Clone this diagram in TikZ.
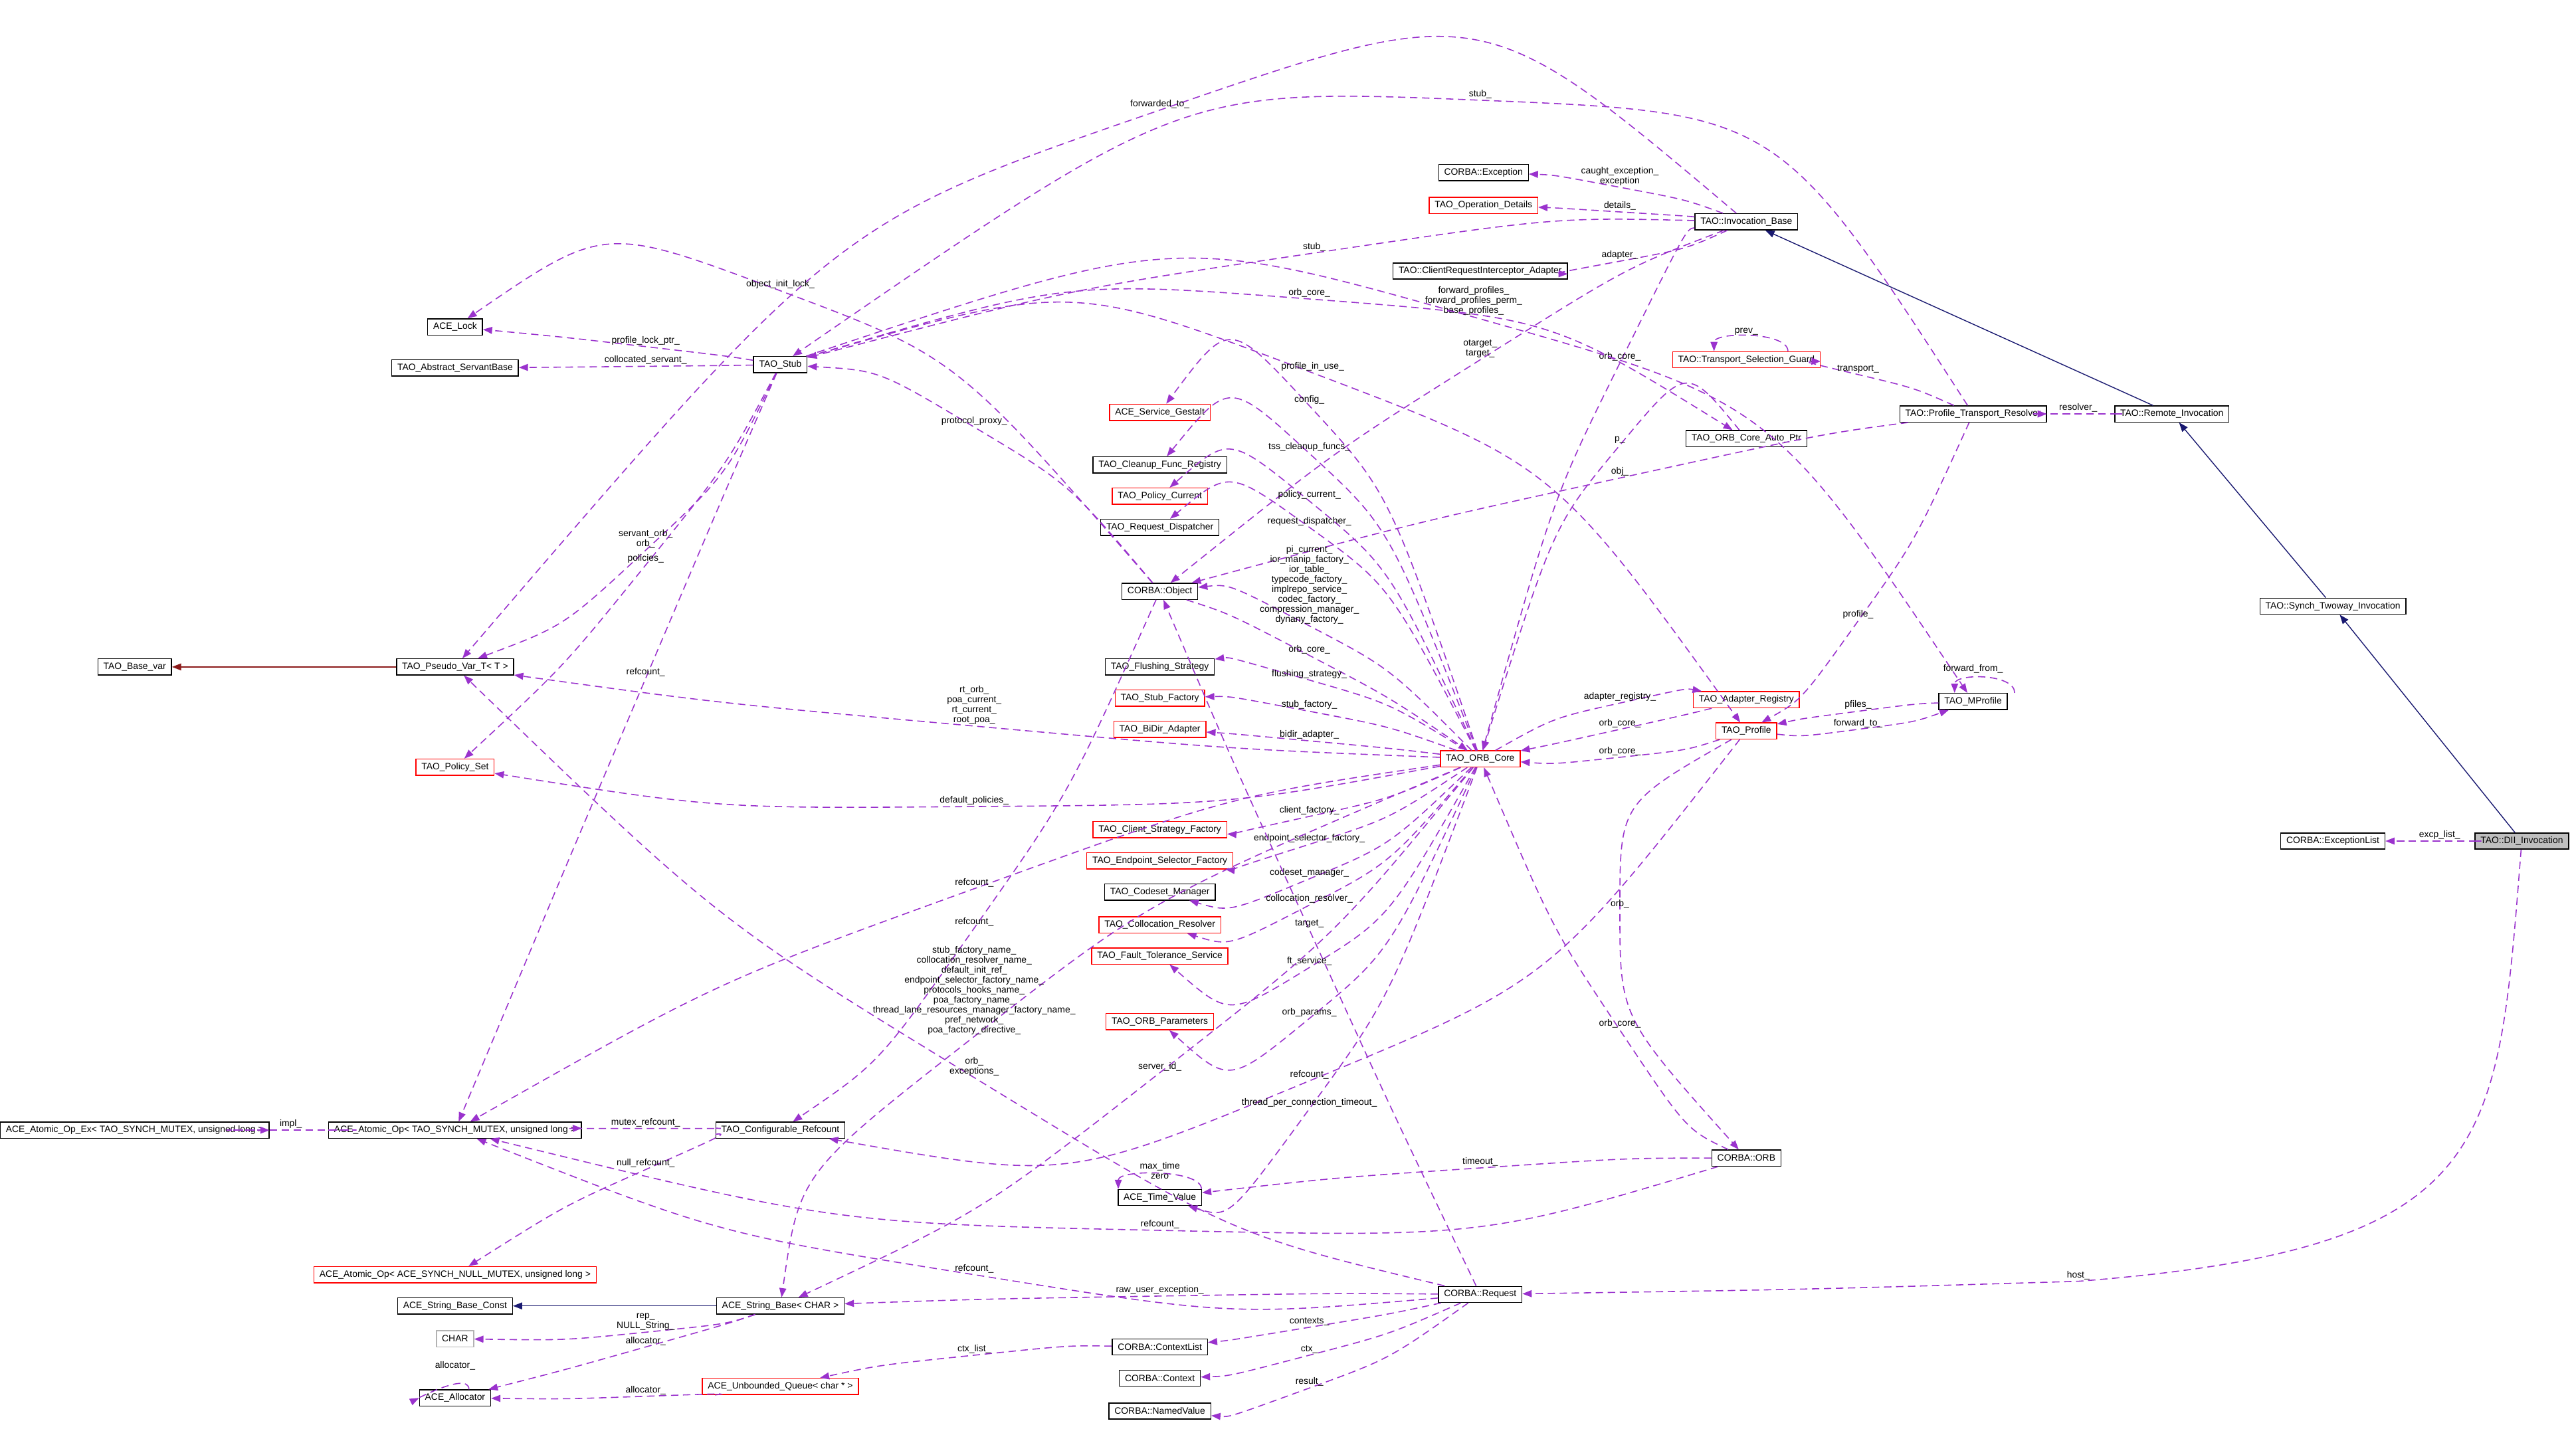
\documentclass[tikz,border=0pt]{standalone}
\usepackage{fontspec}
\setmainfont{Liberation Sans}
\usepackage{underscore}
\usetikzlibrary{calc,arrows.meta}
\definecolor{mp}{HTML}{9A32CD}
\definecolor{nb}{HTML}{191970}
\definecolor{fb}{HTML}{8B1A1A}
\tikzset{
  cls/.style={draw=black,line width=0.4pt,font=\fontsize{4.0}{4.4}\selectfont,inner xsep=2.4pt,inner ysep=0pt,minimum height=7pt,anchor=center},
  rcls/.style={cls,draw=red},
  gcls/.style={cls,draw=gray!60},
  lab/.style={font=\fontsize{4.0}{4.3}\selectfont,align=center,anchor=south,inner sep=0.6pt},
  mem/.style={draw=mp,line width=0.45pt,dash pattern=on 3.2pt off 2pt,-{Triangle[length=4pt,width=3pt]}},
  inh/.style={draw=nb,line width=0.4pt,-{Triangle[length=4pt,width=3pt]}},
  tpl/.style={draw=fb,line width=0.4pt,-{Triangle[length=4pt,width=3pt]}}
}
\newcommand\mlink[6][]{\draw[mem,#1] (#2) .. controls ($(#4,#5)+0.25*(#2)-0.25*(#3)$) .. (#4,#5)
   .. controls ($(#4,#5)-0.25*(#2)+0.25*(#3)$) .. (#3);
  \node[lab] at (#4,#5) {#6};}
\begin{document}
\begin{tikzpicture}[x=0.025cm,y=-0.025cm]
\useasboundingbox (0,0) rectangle (1568,871);
% nodes
\node[cls] (exc) at (903,105) {CORBA::Exception};
\node[rcls] (opd) at (903,125) {TAO_Operation_Details};
\node[cls] (invb) at (1063,135) {TAO::Invocation_Base};
\node[cls] (cria) at (901,165) {TAO::ClientRequestInterceptor_Adapter};
\node[cls] (acelock) at (277,199) {ACE_Lock};
\node[cls] (stub) at (475,222) {TAO_Stub};
\node[cls] (asb) at (277,224) {TAO_Abstract_ServantBase};
\node[rcls] (tsg) at (1063,219) {TAO::Transport_Selection_Guard};
\node[rcls] (gestalt) at (706,251) {ACE_Service_Gestalt};
\node[cls] (ptr) at (1201,252) {TAO::Profile_Transport_Resolver};
\node[cls] (remi) at (1322,252) {TAO::Remote_Invocation};
\node[cls] (autoptr) at (1063,267) {TAO_ORB_Core_Auto_Ptr};
\node[cls] (cleanup) at (706,283) {TAO_Cleanup_Func_Registry};
\node[rcls] (polcur) at (706,302) {TAO_Policy_Current};
\node[cls] (reqd) at (706,321) {TAO_Request_Dispatcher};
\node[cls] (obj) at (706,360) {CORBA::Object};
\node[cls] (synch) at (1420,369) {TAO::Synch_Twoway_Invocation};
\node[cls] (basevar) at (82,406) {TAO_Base_var};
\node[cls] (pvar) at (277,406) {TAO_Pseudo_Var_T< T >};
\node[cls] (flush) at (706,406) {TAO_Flushing_Strategy};
\node[rcls] (stubf) at (706,425) {TAO_Stub_Factory};
\node[rcls] (adreg) at (1063,426) {TAO_Adapter_Registry};
\node[cls] (mprof) at (1201,427) {TAO_MProfile};
\node[rcls] (bidir) at (706,444) {TAO_BiDir_Adapter};
\node[rcls] (prof) at (1063,445) {TAO_Profile};
\node[rcls] (orbc) at (901,462) {TAO_ORB_Core};
\node[rcls] (polset) at (277,467) {TAO_Policy_Set};
\node[rcls] (csf) at (706,505) {TAO_Client_Strategy_Factory};
\node[cls] (exclist) at (1420,512) {CORBA::ExceptionList};
\node[cls,fill=gray!50] (dii) at (1535,512) {TAO::DII_Invocation};
\node[rcls] (esf) at (706,524) {TAO_Endpoint_Selector_Factory};
\node[cls] (codeset) at (706,543) {TAO_Codeset_Manager};
\node[rcls] (collres) at (706,563) {TAO_Collocation_Resolver};
\node[rcls] (ftsvc) at (706,582) {TAO_Fault_Tolerance_Service};
\node[rcls] (orbparams) at (706,622) {TAO_ORB_Parameters};
\node[cls] (atomex) at (82,688) {ACE_Atomic_Op_Ex< TAO_SYNCH_MUTEX, unsigned long >};
\node[cls] (atom) at (277,688) {ACE_Atomic_Op< TAO_SYNCH_MUTEX, unsigned long >};
\node[cls] (cref) at (475,688) {TAO_Configurable_Refcount};
\node[cls] (orb) at (1063,705) {CORBA::ORB};
\node[cls] (timev) at (706,729) {ACE_Time_Value};
\node[rcls] (atomnull) at (277,776) {ACE_Atomic_Op< ACE_SYNCH_NULL_MUTEX, unsigned long >};
\node[cls] (req) at (901,788) {CORBA::Request};
\node[cls] (sbconst) at (277,795) {ACE_String_Base_Const};
\node[cls] (sbase) at (475,795) {ACE_String_Base< CHAR >};
\node[gcls] (char) at (277,815) {CHAR};
\node[cls] (ctxlist) at (706,820) {CORBA::ContextList};
\node[cls] (alloc) at (277,851) {ACE_Allocator};
\node[rcls] (queue) at (475,844) {ACE_Unbounded_Queue< char * >};
\node[cls] (ctx) at (706,839) {CORBA::Context};
\node[cls] (namedv) at (706,859) {CORBA::NamedValue};
% inheritance
\draw[inh] (remi) -- (invb);
\draw[inh] (synch) -- (remi);
\draw[inh] (dii) -- (synch);
\draw[inh] (sbase) -- (sbconst);
\draw[tpl] (pvar) -- (basevar);
% members
\mlink{invb}{exc}{986}{114}{caught_exception_\\exception}
\mlink{invb}{opd}{986}{129}{details_}
\mlink{invb}{cria}{986}{159}{adapter_}
\mlink{invb}{stub}{800}{154}{stub_}
\mlink{ptr}{stub}{901}{61}{stub_}
\mlink{invb}{pvar}{706}{67}{forwarded_to_}
\mlink{invb}{orbc}{986}{221}{orb_core_}
\mlink{invb}{obj}{901}{219}{otarget_\\target_}
\mlink{stub}{mprof}{897}{193}{forward_profiles_\\forward_profiles_perm_\\base_profiles_}
\mlink{stub}{autoptr}{797}{182}{orb_core_}
\mlink{stub}{prof}{799}{227}{profile_in_use_}
\mlink{obj}{acelock}{475}{177}{object_init_lock_}
\mlink{stub}{acelock}{393}{211}{profile_lock_ptr_}
\mlink{stub}{asb}{393}{223}{collocated_servant_}
\mlink{stub}{pvar}{393}{335}{servant_orb_\\orb_}
\mlink{stub}{polset}{393}{344}{policies_}
\mlink{stub}{atom}{393}{413}{refcount_}
\mlink{obj}{stub}{593}{260}{protocol_proxy_}
\mlink{orbc}{gestalt}{797}{247}{config_}
\mlink{orbc}{cleanup}{797}{276}{tss_cleanup_funcs_}
\mlink{autoptr}{orbc}{986}{271}{p_}
\mlink{ptr}{obj}{986}{291}{obj_}
\mlink{orbc}{polcur}{797}{305}{policy_current_}
\mlink{orbc}{reqd}{797}{321}{request_dispatcher_}
\mlink{orbc}{obj}{797}{381}{pi_current_\\ior_manip_factory_\\ior_table_\\typecode_factory_\\implrepo_service_\\codec_factory_\\compression_manager_\\dynany_factory_}
\mlink{obj}{orbc}{797}{399}{orb_core_}
\mlink{orbc}{flush}{797}{414}{flushing_strategy_}
\mlink{orbc}{stubf}{797}{433}{stub_factory_}
\mlink{orbc}{bidir}{797}{451}{bidir_adapter_}
\mlink{orbc}{pvar}{593}{442}{rt_orb_\\poa_current_\\rt_current_\\root_poa_}
\mlink{orbc}{polset}{593}{491}{default_policies_}
\mlink{orbc}{csf}{797}{497}{client_factory_}
\mlink{orbc}{esf}{797}{514}{endpoint_selector_factory_}
\mlink{orbc}{codeset}{797}{535}{codeset_manager_}
\mlink{orbc}{collres}{797}{551}{collocation_resolver_}
\mlink{req}{obj}{797}{566}{target_}
\mlink{orbc}{ftsvc}{797}{589}{ft_service_}
\mlink{orbc}{orbparams}{797}{620}{orb_params_}
\mlink{orbc}{atom}{593}{541}{refcount_}
\mlink{obj}{cref}{593}{565}{refcount_}
\mlink{prof}{cref}{797}{658}{refcount_}
\mlink{prof}{orb}{986}{554}{orb_}
\mlink{orbc}{sbase}{593}{631}{stub_factory_name_\\collocation_resolver_name_\\default_init_ref_\\endpoint_selector_factory_name_\\protocols_hooks_name_\\poa_factory_name_\\thread_lane_resources_manager_factory_name_\\pref_network_\\poa_factory_directive_}
\mlink{req}{pvar}{593}{656}{orb_\\exceptions_}
\mlink{orbc}{sbase}{706}{653}{server_id_}
\mlink{orbc}{timev}{797}{675}{thread_per_connection_timeout_}
\mlink{orb}{timev}{901}{711}{timeout_}
\mlink{orb}{atom}{706}{749}{refcount_}
\mlink{req}{atom}{593}{776}{refcount_}
\mlink{req}{sbase}{706}{789}{raw_user_exception_}
\mlink{req}{ctxlist}{797}{808}{contexts_}
\mlink{req}{ctx}{797}{825}{ctx_}
\mlink{req}{namedv}{797}{845}{result_}
\mlink{ctxlist}{queue}{593}{825}{ctx_list_}
\mlink{sbase}{char}{393}{811}{rep_\\NULL_String_}
\mlink{sbase}{alloc}{393}{820}{allocator_}
\mlink{queue}{alloc}{393}{850}{allocator_}
\mlink{cref}{atom}{393}{687}{mutex_refcount_}
\mlink{cref}{atomnull}{393}{712}{null_refcount_}
\mlink{atom}{atomex}{177}{688}{impl_}
\mlink{orbc}{adreg}{986}{428}{adapter_registry_}
\mlink{adreg}{orbc}{986}{444}{orb_core_}
\mlink{prof}{orbc}{986}{461}{orb_core_}
\mlink{mprof}{prof}{1131}{433}{pfiles_}
\mlink{prof}{mprof}{1131}{444}{forward_to_}
\mlink{ptr}{tsg}{1131}{228}{transport_}
\mlink{remi}{ptr}{1265}{252}{resolver_}
\mlink{ptr}{prof}{1131}{378}{profile_}
\mlink{dii}{exclist}{1485}{512}{excp_list_}
\draw[mem] (dii) .. controls (1520,700) and (1520,760) .. (1265,780) .. controls (1100,785) .. (req);
\node[lab] at (1265,780) {host_};
\mlink{orb}{orbc}{986}{627}{orb_core_}
% self loops
\draw[mem] ([xshift=18pt]tsg.north) .. controls +(0,-12) and +(0,-12) .. ([xshift=-14pt]tsg.north);
\node[lab] at (1063,205) {prev_};
\draw[mem] ([xshift=18pt]mprof.north) .. controls +(0,-12) and +(0,-12) .. ([xshift=-8pt]mprof.north);
\node[lab] at (1201,411) {forward_from_};
\draw[mem] ([xshift=18pt]timev.north) .. controls +(0,-12) and +(0,-12) .. ([xshift=-18pt]timev.north);
\node[lab] at (706,719) {max_time\\zero};
\draw[mem] ([xshift=6pt]alloc.north) .. controls +(0,-12) and +(-8,4) .. (alloc.west);
\node[lab] at (277,835) {allocator_};
\end{tikzpicture}
\end{document}
